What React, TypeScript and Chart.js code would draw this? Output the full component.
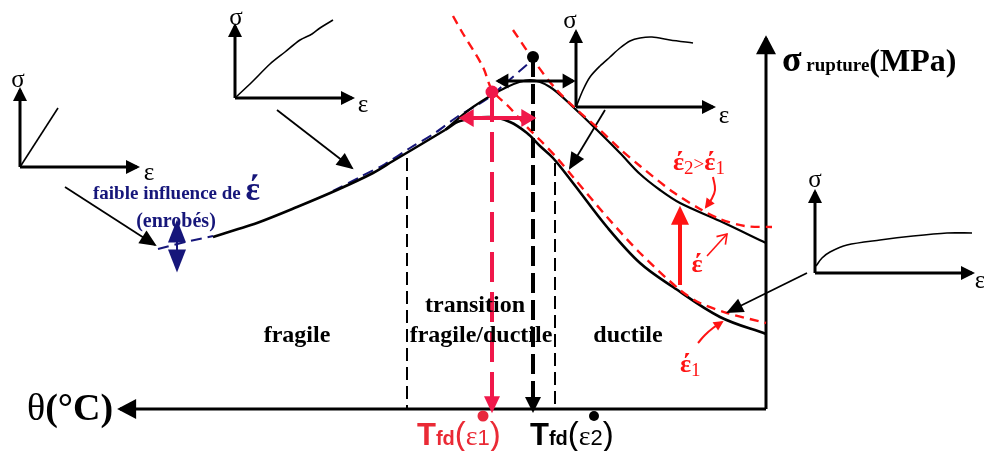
import React, { useEffect, useRef } from "react";
import { Chart, registerables } from "chart.js";

Chart.register(...registerables);

type P = [number, number];

// ---------- schematic data (x: temperature direction, y: stress, screen-oriented) ----------
const thetaAxis: P[] = [[766, 409], [120, 409]];
const sigmaAxis: P[] = [[766, 409], [766, 38]];

const curveFragile: P[] = [[213, 237], [235, 230], [257, 223], [297, 207], [337, 190], [373, 173], [393, 161], [420, 145], [445, 130]];
const curveEps2: P[] = [[445, 130], [473, 107], [507, 87], [530, 80], [550, 87], [573, 107], [597, 130], [620, 153], [640, 174], [660, 190], [680, 203], [720, 221], [766, 243]];
const curveEps1: P[] = [[445, 130], [460, 121], [490, 117], [510, 122], [527, 133], [540, 146], [553, 158], [573, 183], [607, 227], [640, 263], [673, 287], [720, 317], [766, 334]];

const redDashEps1: P[] = [[453, 16], [462, 32], [483, 67], [492, 90], [510, 108], [527, 127], [540, 140], [557, 158], [573, 177], [607, 217], [640, 253], [680, 290], [700, 303], [727, 313], [766, 323]];
const redDashEps2: P[] = [[513, 30], [537, 65], [555, 88], [575, 108], [600, 130], [620, 149], [640, 166], [673, 192], [700, 209], [720, 219], [745, 226], [772, 227]];

const navyDashUpper: P[] = [[333, 191], [360, 177], [385, 164], [410, 148], [435, 133], [457, 117], [487, 99], [507, 82], [530, 62]];
const navyDashLower: P[] = [[158, 249], [185, 242], [213, 236]];
const navyDoubleArrow: P[] = [[177, 222], [177, 270]];

const limitFragile: P[] = [[407, 158], [407, 409]];
const limitDuctile: P[] = [[555, 163], [555, 409]];
const tfdEps2Drop: P[] = [[533, 57], [533, 409]];
const tfdEps1Drop: P[] = [[492, 92], [492, 409]];
const shiftBlack: P[] = [[498, 81], [573, 81]];
const shiftRed: P[] = [[462, 118], [533, 118]];
const rateArrow: P[] = [[680, 285], [680, 210]];
const rateThinArrow: P[] = [[707, 256], [727, 234]];
const rateCurlTop: P[] = [[713, 177], [715, 190], [711, 200], [706, 207]];
const rateCurlBottom: P[] = [[698, 343], [705, 335], [713, 328], [722, 322]];

const dotsBlack: P[] = [[533, 57]];
const dotsRed: P[] = [[492, 92]];
const dotBottomRed: P[] = [[483, 416]];
const dotBottomBlack: P[] = [[594, 416]];

// inset σ–ε diagrams: [vertical axis, horizontal axis, curve]
const insetA: P[][] = [[[20, 167], [20, 90]], [[20, 167], [137, 167]], [[20, 167], [58, 108]]];
const insetB: P[][] = [[[235, 98], [235, 26]], [[235, 98], [352, 98]], [[235, 98], [252, 82], [270, 64], [285, 52], [300, 40], [312, 34], [320, 28], [333, 20]]];
const insetC: P[][] = [[[576, 107], [576, 32]], [[576, 107], [713, 107]], [[576, 107], [583, 90], [590, 77], [600, 66], [610, 57], [620, 48], [630, 41], [640, 38], [652, 37], [670, 40], [693, 43]]];
const insetD: P[][] = [[[815, 273], [815, 192]], [[815, 273], [972, 273]], [[816, 266], [822, 258], [830, 252], [847, 245], [880, 240], [913, 236], [947, 233], [972, 233]]];
const pointers: P[][] = [[[65, 187], [155, 245]], [[277, 110], [352, 168]], [[605, 110], [570, 168]], [[807, 273], [728, 312]]];

const SERIF = "'Liberation Serif', 'Times New Roman', serif";
const SANS = "'Liberation Sans', Arial, sans-serif";
const RED = "#ff1414";
const CRIMSON = "#f0184a";
const NAVY = "#16167a";

type Run = { t: string; f: string; dy?: number };
type Label = { x: number; y: number; align: "left" | "center"; c: string; runs: Run[] };

const labels: Label[] = [
  { x: 18, y: 87, align: "center", c: "#000", runs: [{ t: "σ", f: `25px ${SERIF}` }] },
  { x: 149, y: 180, align: "center", c: "#000", runs: [{ t: "ε", f: `25px ${SERIF}` }] },
  { x: 236, y: 25, align: "center", c: "#000", runs: [{ t: "σ", f: `25px ${SERIF}` }] },
  { x: 363, y: 112, align: "center", c: "#000", runs: [{ t: "ε", f: `25px ${SERIF}` }] },
  { x: 570, y: 28, align: "center", c: "#000", runs: [{ t: "σ", f: `25px ${SERIF}` }] },
  { x: 724, y: 123, align: "center", c: "#000", runs: [{ t: "ε", f: `25px ${SERIF}` }] },
  { x: 815, y: 187, align: "center", c: "#000", runs: [{ t: "σ", f: `25px ${SERIF}` }] },
  { x: 980, y: 288, align: "center", c: "#000", runs: [{ t: "ε", f: `25px ${SERIF}` }] },
  { x: 93, y: 199, align: "left", c: NAVY, runs: [{ t: "faible influence de ", f: `bold 19px ${SERIF}` }, { t: "έ", f: `bold 34px ${SERIF}`, dy: 1 }] },
  { x: 176, y: 227, align: "center", c: NAVY, runs: [{ t: "(enrobés)", f: `bold 20px ${SERIF}` }] },
  { x: 297, y: 342, align: "center", c: "#000", runs: [{ t: "fragile", f: `bold 24px ${SERIF}` }] },
  { x: 475, y: 312, align: "center", c: "#000", runs: [{ t: "transition", f: `bold 24px ${SERIF}` }] },
  { x: 481, y: 342, align: "center", c: "#000", runs: [{ t: "fragile/ductile", f: `bold 24px ${SERIF}` }] },
  { x: 628, y: 342, align: "center", c: "#000", runs: [{ t: "ductile", f: `bold 24px ${SERIF}` }] },
  { x: 782, y: 71, align: "left", c: "#000", runs: [{ t: "σ", f: `bold 36px ${SERIF}` }, { t: " rupture", f: `bold 19px ${SERIF}` }, { t: "(MPa)", f: `bold 32px ${SERIF}` }] },
  { x: 27, y: 420, align: "left", c: "#000", runs: [{ t: "θ", f: `38px ${SERIF}` }, { t: "(°C)", f: `bold 38px ${SERIF}` }] },
  { x: 417, y: 445, align: "left", c: "#ea2a35", runs: [{ t: "T", f: `bold 31px ${SANS}` }, { t: "fd", f: `bold 20px ${SANS}` }, { t: "(", f: `33px ${SANS}` }, { t: "ε", f: `28px ${SERIF}` }, { t: "1", f: `22px ${SANS}` }, { t: ")", f: `33px ${SANS}` }] },
  { x: 530, y: 445, align: "left", c: "#000", runs: [{ t: "T", f: `bold 31px ${SANS}` }, { t: "fd", f: `bold 20px ${SANS}` }, { t: "(", f: `33px ${SANS}` }, { t: "ε", f: `28px ${SERIF}` }, { t: "2", f: `22px ${SANS}` }, { t: ")", f: `33px ${SANS}` }] },
  { x: 673, y: 170, align: "left", c: RED, runs: [{ t: "έ", f: `bold 26px ${SERIF}` }, { t: "2", f: `19px ${SERIF}`, dy: 4 }, { t: ">", f: `19px ${SERIF}` }, { t: "έ", f: `bold 26px ${SERIF}` }, { t: "1", f: `19px ${SERIF}`, dy: 4 }] },
  { x: 697, y: 272, align: "center", c: RED, runs: [{ t: "έ", f: `bold 26px ${SERIF}` }] },
  { x: 680, y: 372, align: "left", c: RED, runs: [{ t: "έ", f: `bold 26px ${SERIF}` }, { t: "1", f: `19px ${SERIF}`, dy: 4 }] },
];

type Arrow = { start?: boolean; end?: boolean; len: number; hw: number; open?: boolean };

function ds(pts: P[], color: string, width: number, extra: any = {}) {
  return {
    data: pts.map(([x, y]) => ({ x, y })),
    showLine: true,
    borderColor: color,
    backgroundColor: color,
    borderWidth: width,
    pointRadius: 0,
    pointHoverRadius: 0,
    tension: 0,
    clip: false,
    ...extra,
  };
}

function dots(pts: P[], color: string, r: number) {
  return {
    data: pts.map(([x, y]) => ({ x, y })),
    showLine: false,
    pointRadius: r,
    pointBackgroundColor: color,
    pointBorderColor: color,
    pointBorderWidth: 0,
    clip: false,
  };
}

const arrowPlugin = {
  id: "arrowHeads",
  afterDatasetsDraw(chart: any) {
    const ctx = chart.ctx;
    chart.data.datasets.forEach((d: any, i: number) => {
      const a: Arrow | undefined = d.arrow;
      if (!a) return;
      const pts = chart.getDatasetMeta(i).data;
      const n = pts.length;
      if (n < 2) return;
      const color = d.borderColor;
      const draw = (tip: any, from: any) => {
        const ang = Math.atan2(tip.y - from.y, tip.x - from.x);
        ctx.save();
        ctx.translate(tip.x, tip.y);
        ctx.rotate(ang);
        ctx.setLineDash([]);
        if (a.open) {
          ctx.strokeStyle = color;
          ctx.lineWidth = d.borderWidth;
          ctx.beginPath();
          ctx.moveTo(-a.len, -a.hw);
          ctx.lineTo(0, 0);
          ctx.lineTo(-a.len, a.hw);
          ctx.stroke();
        } else {
          const off = (d.borderWidth * a.len) / (2 * a.hw);
          ctx.fillStyle = color;
          ctx.beginPath();
          ctx.moveTo(off, 0);
          ctx.lineTo(off - a.len, -a.hw);
          ctx.lineTo(off - a.len, a.hw);
          ctx.closePath();
          ctx.fill();
        }
        ctx.restore();
      };
      if (a.end) draw(pts[n - 1], pts[n - 2]);
      if (a.start) draw(pts[0], pts[1]);
    });
  },
};

const textPlugin = {
  id: "textRuns",
  afterDraw(chart: any) {
    const ctx = chart.ctx;
    const xs = chart.scales.x;
    const ys = chart.scales.y;
    labels.forEach((l) => {
      const px = xs.getPixelForValue(l.x);
      const py = ys.getPixelForValue(l.y);
      ctx.save();
      ctx.textBaseline = "alphabetic";
      ctx.textAlign = "left";
      ctx.fillStyle = l.c;
      let total = 0;
      l.runs.forEach((r) => {
        ctx.font = r.f;
        total += ctx.measureText(r.t).width;
      });
      let cx = l.align === "center" ? px - total / 2 : px;
      l.runs.forEach((r) => {
        ctx.font = r.f;
        ctx.fillText(r.t, cx, py + (r.dy || 0));
        cx += ctx.measureText(r.t).width;
      });
      ctx.restore();
    });
  },
};

export default function App() {
  const ref = useRef<HTMLCanvasElement | null>(null);

  useEffect(() => {
    if (!ref.current) return;
    const datasets: any[] = [];
    const add = (d: any) => datasets.push(d);

    // insets
    [insetA, insetB, insetC, insetD].forEach((ins) => {
      add(ds(ins[0], "#000", 3, { arrow: { end: true, len: 14, hw: 7 } }));
      add(ds(ins[1], "#000", 3, { arrow: { end: true, len: 14, hw: 7 } }));
      add(ds(ins[2], "#000", 1.6, { tension: 0.3 }));
    });
    pointers.forEach((p) => add(ds(p, "#000", 1.8, { arrow: { end: true, len: 17, hw: 7.5 } })));

    // main axes
    add(ds(thetaAxis, "#000", 3, { arrow: { end: true, len: 19, hw: 10 } }));
    add(ds(sigmaAxis, "#000", 3, { arrow: { end: true, len: 19, hw: 10 } }));

    // boundary dashed lines
    add(ds(limitFragile, "#000", 2, { borderDash: [13, 6] }));
    add(ds(limitDuctile, "#000", 2, { borderDash: [13, 6] }));

    // dashed navy
    add(ds(navyDashUpper, NAVY, 2, { borderDash: [11, 6], tension: 0.3 }));
    add(ds(navyDashLower, NAVY, 2, { borderDash: [11, 6] }));

    // curves
    add(ds(curveFragile, "#000", 2.6, { tension: 0.35 }));
    add(ds(curveEps2, "#000", 2.2, { tension: 0.35 }));
    add(ds(curveEps1, "#000", 2.6, { tension: 0.35 }));
    add(ds(redDashEps1, RED, 2.4, { borderDash: [9, 6], tension: 0.3 }));
    add(ds(redDashEps2, RED, 2.4, { borderDash: [9, 6], tension: 0.3 }));

    // transition temperature markers
    add(ds(tfdEps2Drop, "#000", 4, { borderDash: [20, 7], arrow: { end: true, len: 16, hw: 8 } }));
    add(ds(tfdEps1Drop, CRIMSON, 4, { borderDash: [30, 10], arrow: { end: true, len: 17, hw: 8 } }));
    add(ds(shiftBlack, "#000", 3, { arrow: { start: true, end: true, len: 13, hw: 7.5 } }));
    add(ds(shiftRed, CRIMSON, 4, { arrow: { start: true, end: true, len: 15, hw: 9 } }));

    // strain-rate arrows
    add(ds(rateArrow, RED, 4, { arrow: { end: true, len: 19, hw: 9 } }));
    add(ds(rateThinArrow, RED, 1.6, { arrow: { end: true, len: 9, hw: 6, open: true } }));
    add(ds(rateCurlTop, RED, 2, { tension: 0.4, arrow: { end: true, len: 10, hw: 5 } }));
    add(ds(rateCurlBottom, RED, 2, { tension: 0.4, arrow: { end: true, len: 10, hw: 5 } }));
    add(ds(navyDoubleArrow, NAVY, 2, { arrow: { start: true, end: true, len: 23, hw: 9 } }));

    // dots
    add(dots(dotsBlack, "#000", 6));
    add(dots(dotsRed, CRIMSON, 6.5));
    add(dots(dotBottomRed, "#e8283c", 5.5));
    add(dots(dotBottomBlack, "#000", 5));

    // Chart.js draws index 0 on top: reverse so later items are drawn last
    datasets.reverse();

    const chart = new Chart(ref.current, {
      type: "scatter",
      data: { datasets },
      options: {
        animation: false,
        responsive: false,
        events: [],
        layout: { padding: 0, autoPadding: false },
        plugins: { legend: { display: false }, tooltip: { enabled: false }, title: { display: false } },
        scales: {
          x: { type: "linear", min: 0, max: 984, display: false },
          y: { type: "linear", min: 0, max: 451, reverse: true, display: false },
        },
      },
      plugins: [arrowPlugin, textPlugin],
    } as any);
    return () => chart.destroy();
  }, []);

  return (
    <div style={{ position: "fixed", left: 0, top: 0, width: 984, height: 451, background: "#fff" }}>
      <canvas ref={ref} width={984} height={451} style={{ display: "block" }} />
    </div>
  );
}
